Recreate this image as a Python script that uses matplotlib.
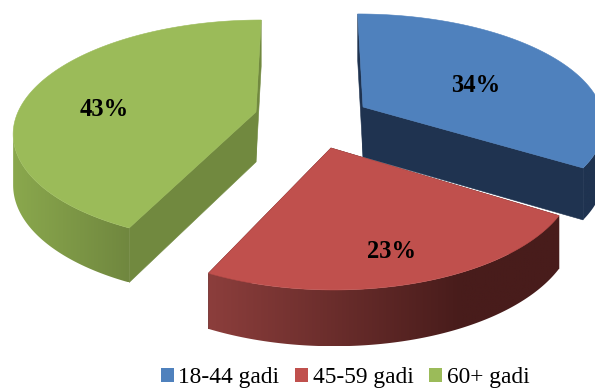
import numpy as np
import matplotlib
matplotlib.use("Agg")
import matplotlib.pyplot as plt
from matplotlib.patches import Polygon, Patch
from matplotlib.colors import to_rgb

categories = ["18-44 gadi", "45-59 gadi", "60+ gadi"]
values = [34, 23, 43]
labels = ["34%", "23%", "43%"]

top_colors = ["#4f81bd", "#c0504d", "#9bbb59"]
wall_colors = ["#1f3350", "#4a1d1c", "#71893f"]
side_left = ["#1f3350", "#8c3e3c", "#8aa84d"]
side_right = ["#1f3350", "#481c1b", "#70873f"]
gradient_end = [1.0, 0.72, 1.0]

# exploded apex of each slice and its projection, in pixels
apex = [(363, 107), (331, 148), (256, 112)]
radius_x = [238, 238, 238]
radius_y = [105.6, 112, 108]
persp = [0.135, 0.211, 0.174]
lean = 0.113
center_x = 310
base_depth = 50
label_pos = [(476, 85), (391, 251), (104, 109)]

fig = plt.figure(figsize=(5.95, 3.88), dpi=100)
ax = fig.add_axes([0, 0, 1, 1])


def rim(i, theta):
    """Projected rim point(s) of slice i, theta clockwise from 12 o'clock."""
    u, v = np.sin(theta), np.cos(theta)
    f = 1 / (1 + persp[i] * v)
    ax_, ay_ = apex[i]
    x = ax_ + radius_x[i] * u * f + (center_x - ax_) * lean * v * f
    y = ay_ - radius_y[i] * v * f
    return x, y, base_depth * np.sqrt(f)


fractions = np.cumsum([0] + values) / sum(values) * 2 * np.pi
for i in range(len(values)):
    th = np.linspace(fractions[i], fractions[i + 1], 200)
    x, y, d = rim(i, th)
    ax0, ay0 = apex[i]
    # straight inner walls
    for k in (0, -1):
        ax.add_patch(Polygon([(ax0, ay0), (x[k], y[k]), (x[k], y[k] + d[k]),
                              (ax0, ay0 + base_depth)],
                             fc=wall_colors[i], ec=wall_colors[i], lw=0.4, zorder=i * 3 + 1))
    # outer curved side with a horizontal gradient: only the part facing the viewer
    seen = np.gradient(x) < 0
    xs, ys, ds = x[seen], y[seen], d[seen]
    side = Polygon(np.column_stack([np.r_[xs, xs[::-1]], np.r_[ys, (ys + ds)[::-1]]]),
                   fc="none", ec="none", transform=ax.transData)
    ax.add_patch(side)
    t = np.clip(np.linspace(0, 1, 256) / gradient_end[i], 0, 1)[None, :, None]
    rgb = np.array(to_rgb(side_left[i])) * (1 - t) + np.array(to_rgb(side_right[i])) * t
    im = ax.imshow(rgb, extent=(xs.min(), xs.max(), (ys + ds).max(), ys.min()),
                   aspect="auto", interpolation="bilinear", zorder=i * 3 + 2)
    im.set_clip_path(side)
    # top surface
    ax.add_patch(Polygon(np.column_stack([np.r_[ax0, x], np.r_[ay0, y]]),
                         fc=top_colors[i], ec=top_colors[i], lw=0.4, zorder=i * 3 + 3))
    ax.text(label_pos[i][0], label_pos[i][1], labels[i], ha="center", va="center",
            family="Liberation Serif", weight="bold", fontsize=17.7, color="black", zorder=20)

ax.set_xlim(0, 595)
ax.set_ylim(388, 0)
ax.axis("off")

handles = [Patch(fc=c, ec="none") for c in top_colors]
ax.legend(handles, categories, ncol=3, frameon=False, loc="lower left",
          bbox_to_anchor=(161, 388), bbox_transform=ax.transData,
          prop={"family": "Liberation Serif", "size": 16.8},
          borderpad=0, borderaxespad=0, handlelength=0.55, handleheight=0.55,
          handletextpad=0.2, columnspacing=0.68, labelcolor="black")

fig.savefig("out.png", dpi=100)
